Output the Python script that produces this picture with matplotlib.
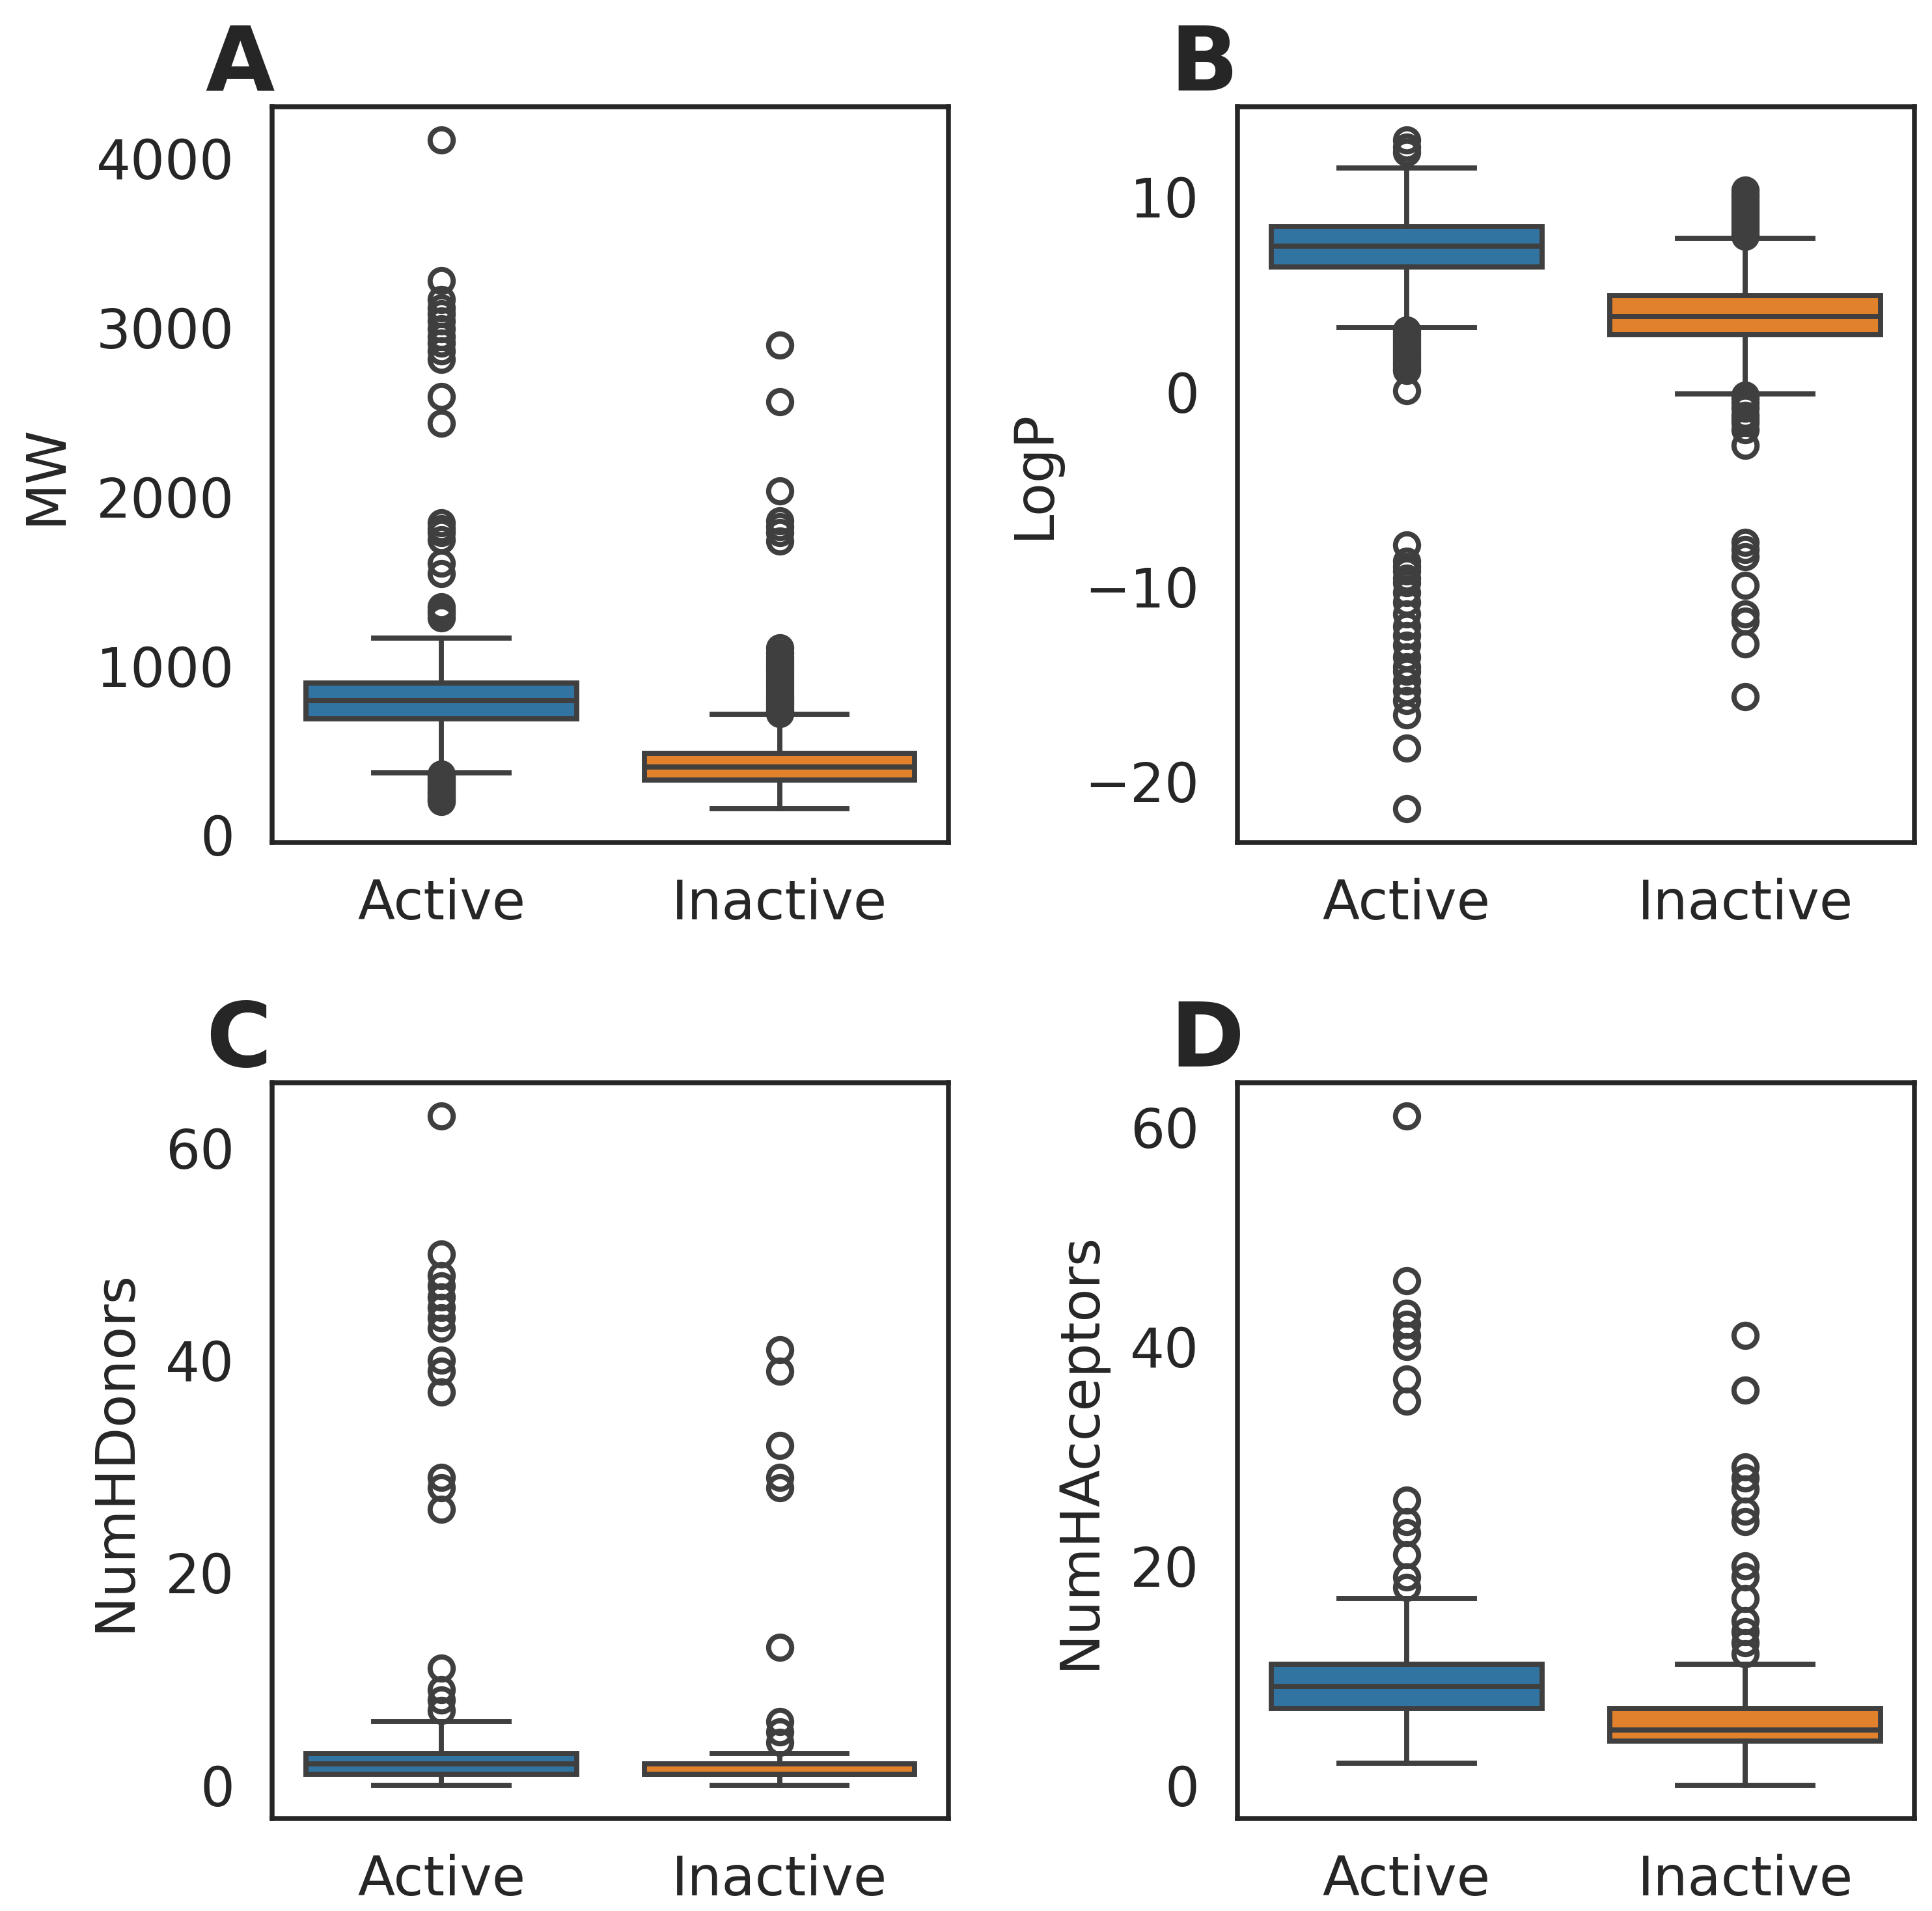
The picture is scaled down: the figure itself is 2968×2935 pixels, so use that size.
import matplotlib
matplotlib.use('Agg')
import matplotlib.pyplot as plt

categories = ['Active', 'Inactive']
box_colors = ['#3274a1', '#e1812c']

# ---- MW ----
mw_q1 = [686, 325]
mw_med = [793, 402]
mw_q3 = [898, 481]
mw_whislo = [367, 154]
mw_whishi = [1163, 714]
mw_fliers_active = [4108, 3278, 3165, 3117, 3080, 3037, 2994, 2946, 2909, 2860, 2810,
                    2591, 2435, 1844, 1810, 1787, 1745, 1608, 1546, 1347, 1325, 1310, 1285,
                    360, 348, 335, 322, 310, 298, 286, 275, 264, 253, 243, 232, 222, 212, 204, 197]
mw_fliers_inactive = [2895, 2563, 2035, 1858, 1822, 1787, 1739, 1105, 1075, 1050, 1030, 1010,
                      990, 970, 950, 930, 910, 890, 870, 850, 830, 815, 800, 785, 770, 755,
                      740, 728, 718]

# ---- LogP ----
logp_q1 = [6.40, 2.91]
logp_med = [7.46, 3.87]
logp_q3 = [8.49, 4.93]
logp_whislo = [3.30, -0.11]
logp_whishi = [11.49, 7.88]
logp_fliers_active = [12.92, 12.55, 12.30, 3.15, 3.0, 2.85, 2.7, 2.55, 2.4, 2.25, 2.1, 1.95,
                      1.8, 1.65, 1.5, 1.35, 1.2, 1.1, 0.06,
                      -7.86, -8.72, -8.97, -9.21, -9.58, -9.83, -10.32, -10.81, -11.43,
                      -12.04, -12.53, -13.02, -13.64, -14.13, -14.37, -14.87, -15.36,
                      -15.85, -16.59, -18.31, -21.43]
logp_fliers_inactive = [10.34, 10.15, 10.0, 9.85, 9.7, 9.55, 9.4, 9.25, 9.1, 8.95, 8.8,
                        8.65, 8.5, 8.35, 8.2, 8.05, 7.98,
                        -0.2, -0.36, -0.6, -0.85, -1.22, -1.4, -1.59, -1.96, -2.75,
                        -7.74, -8.11, -8.47, -9.95, -11.43, -11.79, -12.97, -15.68]

# ---- NumHDonors ----
hd_q1 = [1, 1]
hd_med = [2, 1]
hd_q3 = [3, 2]
hd_whislo = [0, 0]
hd_whishi = [6, 3]
hd_fliers_active = [63, 50, 48, 47, 46, 45, 44, 43, 40, 39, 37, 29, 28, 26, 11, 9, 8, 7]
hd_fliers_inactive = [41, 39, 32, 29, 28, 13, 6, 5, 4]

# ---- NumHAcceptors ----
ha_q1 = [7, 4]
ha_med = [9, 5]
ha_q3 = [11, 7]
ha_whislo = [2, 0]
ha_whishi = [17, 11]
ha_fliers_active = [61, 46, 43, 42, 41, 40, 37, 35, 26, 24, 23, 21, 19, 18]
ha_fliers_inactive = [41, 36, 29, 28, 27, 25, 24, 20, 19, 17, 15, 14, 13, 12]

panels = [
    ('A', 'MW', mw_q1, mw_med, mw_q3, mw_whislo, mw_whishi, [mw_fliers_active, mw_fliers_inactive]),
    ('B', 'LogP', logp_q1, logp_med, logp_q3, logp_whislo, logp_whishi, [logp_fliers_active, logp_fliers_inactive]),
    ('C', 'NumHDonors', hd_q1, hd_med, hd_q3, hd_whislo, hd_whishi, [hd_fliers_active, hd_fliers_inactive]),
    ('D', 'NumHAcceptors', ha_q1, ha_med, ha_q3, ha_whislo, ha_whishi, [ha_fliers_active, ha_fliers_inactive]),
]

plt.rcParams['font.family'] = ['DejaVu Sans']
text_color = '#262626'
edge = '#3f3f3f'

fig = plt.figure(figsize=(2968 / 300, 2935 / 300), dpi=300)
positions = [
    [0.141, 0.5592, 0.350, 0.385],
    [0.6404, 0.5592, 0.3506, 0.385],
    [0.141, 0.0484, 0.350, 0.385],
    [0.6404, 0.0484, 0.3506, 0.385],
]

lw = 1.9
for pos, (letter, label, q1, med, q3, wlo, whi, fl) in zip(positions, panels):
    ax = fig.add_axes(pos)
    stats = []
    for i in range(2):
        stats.append(dict(q1=q1[i], med=med[i], q3=q3[i], whislo=wlo[i], whishi=whi[i],
                          fliers=fl[i], label=categories[i]))
    bp = ax.bxp(stats, positions=[0, 1], widths=0.8, capwidths=0.4, patch_artist=True,
                showfliers=True,
                boxprops=dict(edgecolor=edge, linewidth=lw),
                medianprops=dict(color=edge, linewidth=lw),
                whiskerprops=dict(color=edge, linewidth=lw),
                capprops=dict(color=edge, linewidth=lw),
                flierprops=dict(marker='o', markerfacecolor='none', markeredgecolor=edge,
                                markersize=8.5, markeredgewidth=1.9, linestyle='none'))
    for patch, c in zip(bp['boxes'], box_colors):
        patch.set_facecolor(c)
    ax.set_xlim(-0.5, 1.5)
    ax.set_xticks([0, 1])
    ax.set_xticklabels(categories)
    ax.tick_params(axis='both', length=0, labelsize=20, labelcolor=text_color)
    ax.tick_params(axis='y', pad=14)
    ax.tick_params(axis='x', pad=13)
    ax.set_ylabel(label, fontsize=20, color=text_color, labelpad=9)
    for sp in ax.spines.values():
        sp.set_linewidth(1.8)
        sp.set_color(text_color)
    ax.text(-0.099, 1.022, letter, transform=ax.transAxes, ha='left', va='baseline',
            fontsize=33, fontweight='bold', color=text_color)

fig.savefig('out.png', dpi=300, facecolor='white')
